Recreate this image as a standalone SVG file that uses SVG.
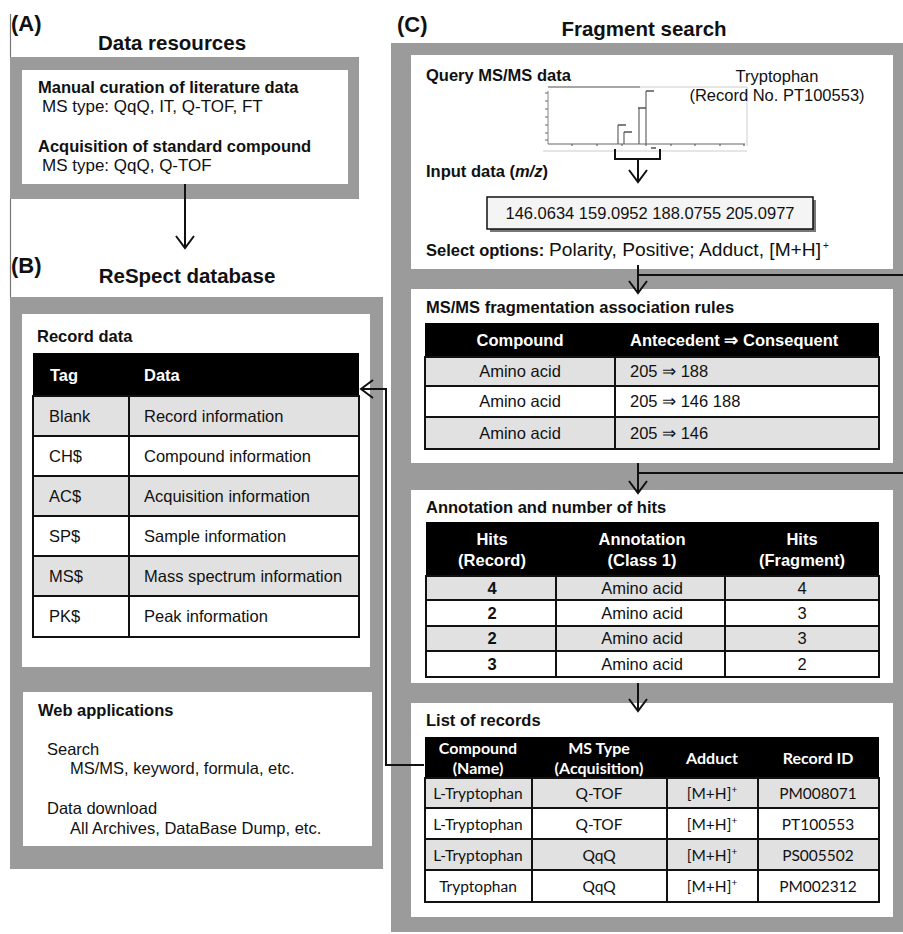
<svg xmlns="http://www.w3.org/2000/svg" width="903" height="934" viewBox="0 0 903 934">
<defs>
<style>
text{font-family:"Liberation Sans",Arial,sans-serif;fill:#111;}
.big{font-size:20.5px;font-weight:bold;}
.lab{font-size:22px;font-weight:bold;}
.h{font-size:16.5px;font-weight:bold;}
.t{font-size:16.5px;}
.t17{font-size:17px;}
.th{font-size:16.5px;font-weight:bold;fill:#fff;}
.c{text-anchor:middle;}
.cal{font-family:Lato,"Open Sans",sans-serif;font-size:15.5px;}
.calh{font-family:Lato,"Open Sans",sans-serif;font-size:16px;font-weight:bold;fill:#fff;}
.gray{fill:#9b9b9b;}
.white{fill:#fff;}
.hdr{fill:#000;}
.r1{fill:#e1e1e1;stroke:#111;stroke-width:2;}
.r0{fill:#fff;stroke:#111;stroke-width:2;}
.conn{stroke:#111;stroke-width:2;fill:none;}
.pk{stroke:#666;stroke-width:1.2;fill:none;}
</style>
<marker id="arr" markerUnits="userSpaceOnUse" markerWidth="16" markerHeight="22" viewBox="0 0 16 22" refX="14" refY="11" orient="auto">
<path d="M2,2 L14,11 L2,20" fill="none" stroke="#111" stroke-width="2"/>
</marker>
</defs>

<line x1="10.5" y1="14" x2="10.5" y2="57" stroke="#777" stroke-width="1.2"/>
<line x1="10.5" y1="199" x2="10.5" y2="297" stroke="#777" stroke-width="1.2"/>

<!-- Panel A -->
<g id="panelA">
<text class="lab" x="11" y="31">(A)</text>
<text class="big c" x="172" y="50">Data resources</text>
<rect class="gray" x="10" y="57" width="349" height="142"/>
<rect class="white" x="22" y="70" width="326" height="114"/>
<text class="h" x="38" y="93">Manual curation of literature data</text>
<text class="t17" x="42" y="112">MS type: QqQ, IT, Q-TOF, FT</text>
<text class="h" x="38" y="152">Acquisition of standard compound</text>
<text class="t17" x="42" y="171">MS type: QqQ, Q-TOF</text>
</g>

<!-- Panel B -->
<g id="panelB">
<text class="lab" x="11" y="273">(B)</text>
<text class="big c" x="187" y="283">ReSpect database</text>
<rect class="gray" x="10" y="297" width="373" height="572"/>
</g>

<g id="recordData">
<rect class="white" x="22" y="314" width="348" height="353"/>
<text class="h" x="37" y="342">Record data</text>
<rect class="hdr" x="33" y="353" width="326" height="43"/>
<text class="th" x="50" y="381">Tag</text>
<text class="th" x="144" y="381">Data</text>
<rect class="r1" x="33" y="396" width="96" height="40"/><rect class="r1" x="129" y="396" width="230" height="40"/>
<rect class="r0" x="33" y="436" width="96" height="40"/><rect class="r0" x="129" y="436" width="230" height="40"/>
<rect class="r1" x="33" y="476" width="96" height="40"/><rect class="r1" x="129" y="476" width="230" height="40"/>
<rect class="r0" x="33" y="516" width="96" height="40"/><rect class="r0" x="129" y="516" width="230" height="40"/>
<rect class="r1" x="33" y="556" width="96" height="40"/><rect class="r1" x="129" y="556" width="230" height="40"/>
<rect class="r0" x="33" y="596" width="96" height="41"/><rect class="r0" x="129" y="596" width="230" height="41"/>
<text class="t" x="49" y="422">Blank</text><text class="t" x="144" y="422">Record information</text>
<text class="t" x="49" y="462">CH$</text><text class="t" x="144" y="462">Compound information</text>
<text class="t" x="49" y="502">AC$</text><text class="t" x="144" y="502">Acquisition information</text>
<text class="t" x="49" y="542">SP$</text><text class="t" x="144" y="542">Sample information</text>
<text class="t" x="49" y="582">MS$</text><text class="t" x="144" y="582">Mass spectrum information</text>
<text class="t" x="49" y="622">PK$</text><text class="t" x="144" y="622">Peak information</text>
</g>

<g id="webApps">
<rect class="white" x="23" y="692" width="349" height="154"/>
<text class="h" x="38" y="716">Web applications</text>
<text class="t" x="47" y="755">Search</text>
<text class="t" x="70" y="774">MS/MS, keyword, formula, etc.</text>
<text class="t" x="47" y="814">Data download</text>
<text class="t" x="70" y="834">All Archives, DataBase Dump, etc.</text>
</g>

<!-- Panel C -->
<g id="panelC">
<text class="lab" x="397" y="32">(C)</text>
<text class="big c" x="644" y="36">Fragment search</text>
<rect class="gray" x="391" y="43" width="512" height="889"/>
</g>

<g id="query">
<rect class="white" x="411" y="55" width="482" height="214"/>
<text class="h" x="426" y="81">Query MS/MS data</text>
<line x1="548" y1="87" x2="640" y2="87" stroke="#888" stroke-width="1.5"/>
<line x1="640" y1="87" x2="747" y2="87" stroke="#ccc" stroke-width="1"/>
<line x1="747" y1="87" x2="747" y2="146" stroke="#ccc" stroke-width="1"/>
<line x1="543" y1="151" x2="747" y2="151" stroke="#ccc" stroke-width="1"/>
<line x1="548" y1="91" x2="548" y2="144" stroke="#888" stroke-width="1"/>
<line x1="548" y1="144" x2="745" y2="144" stroke="#666" stroke-width="1.2"/>
<path class="pk" d="M545,93h3M545,101h3M545,109h3M545,117h3M545,125h3M545,133h3M545,140h3"/>
<path class="pk" d="M572,144v2M597,144v2M622,144v2M646,144v2M671,144v2M695,144v2M720,144v2M744,144v2"/>
<path class="pk" d="M618,144V125M624,144V132M639,144V108M646,144V91"/>
<path stroke="#555" stroke-width="1.6" d="M618,125h8M624,132h8M638,108h8M646,91h8M651,148h5"/>
<text class="t c" x="777" y="82">Tryptophan</text>
<text class="t c" x="777" y="101">(Record No. PT100553)</text>
<text class="h" x="426" y="177">Input data (<tspan font-style="italic">m/z</tspan>)</text>
<rect x="490" y="200" width="326" height="32" fill="#777"/>
<rect x="487" y="197" width="326" height="32" fill="#f4f4f4" stroke="#111" stroke-width="1.5"/>
<text class="t c" x="650" y="219">146.0634 159.0952 188.0755 205.0977</text>
<text class="h" x="426" y="256">Select options:</text>
<text x="549" y="256" font-size="17.5" textLength="272" lengthAdjust="spacingAndGlyphs">Polarity, Positive; Adduct, [M+H]</text>
<text x="823" y="249" font-size="10">+</text>
</g>

<g id="rules">
<rect class="white" x="411" y="289" width="482" height="174"/>
<text class="h" x="426" y="313">MS/MS fragmentation association rules</text>
<rect class="hdr" x="425" y="323" width="454" height="34"/>
<text class="th c" x="520" y="346">Compound</text>
<text class="th" x="630" y="346">Antecedent ⇒ Consequent</text>
<rect class="r1" x="425" y="357" width="190" height="29"/><rect class="r1" x="615" y="357" width="264" height="29"/>
<rect class="r0" x="425" y="386" width="190" height="31"/><rect class="r0" x="615" y="386" width="264" height="31"/>
<rect class="r1" x="425" y="417" width="190" height="32"/><rect class="r1" x="615" y="417" width="264" height="32"/>
<text class="t c" x="520" y="377">Amino acid</text><text class="t" x="630" y="377">205 ⇒ 188</text>
<text class="t c" x="520" y="407">Amino acid</text><text class="t" x="630" y="407">205 ⇒ 146 188</text>
<text class="t c" x="520" y="439">Amino acid</text><text class="t" x="630" y="439">205 ⇒ 146</text>
</g>

<g id="annotation">
<rect class="white" x="411" y="490" width="482" height="193"/>
<text class="h" x="426" y="513">Annotation and number of hits</text>
<rect class="hdr" x="426" y="522" width="453" height="54"/>
<text class="th c" x="492" y="545">Hits</text><text class="th c" x="492" y="566">(Record)</text>
<text class="th c" x="642" y="545">Annotation</text><text class="th c" x="642" y="566">(Class 1)</text>
<text class="th c" x="802" y="545">Hits</text><text class="th c" x="802" y="566">(Fragment)</text>
<rect class="r1" x="426" y="576" width="130" height="24"/><rect class="r1" x="556" y="576" width="169" height="24"/><rect class="r1" x="725" y="576" width="154" height="24"/>
<rect class="r0" x="426" y="600" width="130" height="26"/><rect class="r0" x="556" y="600" width="169" height="26"/><rect class="r0" x="725" y="600" width="154" height="26"/>
<rect class="r1" x="426" y="626" width="130" height="25"/><rect class="r1" x="556" y="626" width="169" height="25"/><rect class="r1" x="725" y="626" width="154" height="25"/>
<rect class="r0" x="426" y="651" width="130" height="26"/><rect class="r0" x="556" y="651" width="169" height="26"/><rect class="r0" x="725" y="651" width="154" height="26"/>
<text class="h c" x="492" y="594">4</text><text class="t c" x="642" y="594">Amino acid</text><text class="t c" x="802" y="594">4</text>
<text class="h c" x="492" y="619">2</text><text class="t c" x="642" y="619">Amino acid</text><text class="t c" x="802" y="619">3</text>
<text class="h c" x="492" y="644">2</text><text class="t c" x="642" y="644">Amino acid</text><text class="t c" x="802" y="644">3</text>
<text class="h c" x="492" y="670">3</text><text class="t c" x="642" y="670">Amino acid</text><text class="t c" x="802" y="670">2</text>
</g>

<g id="records">
<rect class="white" x="411" y="703" width="482" height="214"/>
<text class="h" x="426" y="726">List of records</text>
<rect class="hdr" x="425" y="737" width="454" height="41"/>
<text class="calh c" x="478" y="754">Compound</text><text class="calh c" x="478" y="774">(Name)</text>
<text class="calh c" x="599" y="754">MS Type</text><text class="calh c" x="599" y="774">(Acquisition)</text>
<text class="calh c" x="712" y="764">Adduct</text>
<text class="calh c" x="818" y="764">Record ID</text>
<rect class="r1" x="425" y="778" width="107" height="30"/><rect class="r1" x="532" y="778" width="135" height="30"/><rect class="r1" x="667" y="778" width="91" height="30"/><rect class="r1" x="758" y="778" width="121" height="30"/>
<rect class="r0" x="425" y="808" width="107" height="31"/><rect class="r0" x="532" y="808" width="135" height="31"/><rect class="r0" x="667" y="808" width="91" height="31"/><rect class="r0" x="758" y="808" width="121" height="31"/>
<rect class="r1" x="425" y="839" width="107" height="31"/><rect class="r1" x="532" y="839" width="135" height="31"/><rect class="r1" x="667" y="839" width="91" height="31"/><rect class="r1" x="758" y="839" width="121" height="31"/>
<rect class="r0" x="425" y="870" width="107" height="32"/><rect class="r0" x="532" y="870" width="135" height="32"/><rect class="r0" x="667" y="870" width="91" height="32"/><rect class="r0" x="758" y="870" width="121" height="32"/>
<text class="cal c" x="478" y="799">L-Tryptophan</text><text class="cal c" x="599" y="799">Q-TOF</text><text class="cal c" x="712" y="799">[M+H]<tspan dy="-6" font-size="10">+</tspan></text><text class="cal c" x="818" y="799">PM008071</text>
<text class="cal c" x="478" y="830">L-Tryptophan</text><text class="cal c" x="599" y="830">Q-TOF</text><text class="cal c" x="712" y="830">[M+H]<tspan dy="-6" font-size="10">+</tspan></text><text class="cal c" x="818" y="830">PT100553</text>
<text class="cal c" x="478" y="861">L-Tryptophan</text><text class="cal c" x="599" y="861">QqQ</text><text class="cal c" x="712" y="861">[M+H]<tspan dy="-6" font-size="10">+</tspan></text><text class="cal c" x="818" y="861">PS005502</text>
<text class="cal c" x="478" y="892">Tryptophan</text><text class="cal c" x="599" y="892">QqQ</text><text class="cal c" x="712" y="892">[M+H]<tspan dy="-6" font-size="10">+</tspan></text><text class="cal c" x="818" y="892">PM002312</text>
</g>

<g id="connectors">
<line class="conn" x1="185" y1="184" x2="185" y2="248" marker-end="url(#arr)"/>
<polyline class="conn" points="615,149 615,159 660,159 660,149"/>
<line class="conn" x1="638" y1="159" x2="638" y2="182" marker-end="url(#arr)"/>
<line class="conn" x1="638" y1="265" x2="638" y2="293" marker-end="url(#arr)"/>
<line class="conn" x1="638" y1="275" x2="903" y2="275"/>
<line class="conn" x1="638" y1="463" x2="638" y2="493" marker-end="url(#arr)"/>
<line class="conn" x1="638" y1="473" x2="903" y2="473"/>
<line class="conn" x1="638" y1="683" x2="638" y2="711" marker-end="url(#arr)"/>
<polyline class="conn" points="424,765 386,765 386,389 361,389" marker-end="url(#arr)"/>
</g>
</svg>
